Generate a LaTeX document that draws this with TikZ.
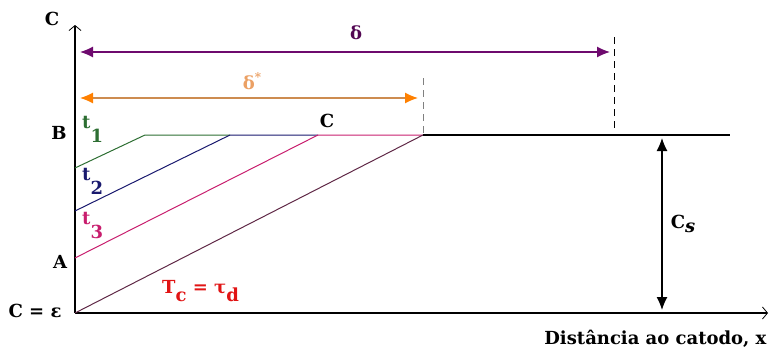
\documentclass[tikz,border=0pt]{standalone}
\usepackage{fontspec}
\setmainfont{DejaVu Serif}
\usetikzlibrary{arrows.meta,positioning}
\definecolor{tgreen}{RGB}{45,110,50}
\definecolor{tnavy}{RGB}{25,25,110}
\definecolor{tpink}{RGB}{200,30,110}
\definecolor{tplum}{RGB}{95,40,70}
\definecolor{tred}{RGB}{225,20,20}
\definecolor{dpurple}{RGB}{110,10,110}
\definecolor{dorange}{RGB}{205,140,80}
\definecolor{dlight}{RGB}{235,160,100}

\begin{document}
\begin{tikzpicture}[x=1pt,y=-1pt,font=\fontsize{18}{20}\selectfont\bfseries,
  axis/.style={line width=1.4pt,-{Straight Barb[length=5pt,width=12pt,line width=0.8pt]}},
  curve/.style={line width=1pt},
  dim/.style={line width=1.2pt,{Latex[length=13pt,width=11pt]}-{Latex[length=13pt,width=11pt]}},
  guide/.style={line width=1pt,dash pattern=on 7pt off 5pt}]
\useasboundingbox (0,0) rectangle (771,356);
\coordinate (O) at (75,313);
\coordinate (ytop) at (75,25);
\coordinate (xend) at (768,313);
\draw[axis] (O) -- (ytop);
\draw[axis] (O) -- (xend);
\coordinate (s1) at (75,168);
\coordinate (s2) at (75,211);
\coordinate (s3) at (75,258);
\coordinate (e1) at (145,135);
\coordinate (e2) at (230,135);
\coordinate (e3) at (318,135);
\coordinate (e4) at (423,135);
\coordinate (eend) at (730,135);
\draw[curve,tgreen] (s1) -- (e1) -- (e2);
\draw[curve,tnavy] (s2) -- (e2) -- (e3);
\draw[curve,tpink] (s3) -- (e3) -- (e4);
\draw[curve,tplum] (O) -- (e4);
\draw[line width=1.2pt] (e4) -- (eend);
\coordinate (g1) at (423,78);
\coordinate (g2) at (614,37);
\coordinate (g2b) at (614,128);
\draw[guide,gray] (g1) -- (e4);
\draw[guide] (g2) -- (g2b);
\coordinate (da) at (80,52);
\coordinate (db) at (610,52);
\coordinate (sa) at (80,98);
\coordinate (sb) at (418,98);
\draw[dim,dpurple] (da) -- (db);
\draw[dim,dorange,{Latex[length=13pt,width=11pt,orange]}-{Latex[length=13pt,width=11pt,orange]}] (sa) -- (sb);
\coordinate (ca) at (662,138);
\coordinate (cb) at (662,310);
\draw[dim] (ca) -- (cb);
\node (lC) at (52,19) {C};
\node (lB) at (59,133) {B};
\node (lA) at (60,262) {A};
\node[anchor=east] (lE) at (65,311) {C = ε};
\node[tgreen,anchor=north west,inner sep=0pt] (t1) at (82,116) {t\raisebox{-0.8em}{1}};
\node[tnavy,anchor=north west,inner sep=0pt] (t2) at (82,168) {t\raisebox{-0.8em}{2}};
\node[tpink,anchor=north west,inner sep=0pt] (t3) at (82,212) {t\raisebox{-0.8em}{3}};
\node[tred,anchor=north west,inner sep=0pt] (tc) at (162,280) {T\raisebox{-0.45em}{c} = τ\raisebox{-0.45em}{d}};
\node (lCm) at (327,121) {C};
\node[dpurple!75!black] (ld) at (356,33) {δ};
\node[dlight] (lds) at (252,81) {δ\raisebox{0.45em}{\fontsize{12}{12}\selectfont *}};
\node (lcs) at (683,224) {C\raisebox{-0.25em}{\itshape s}};
\node[anchor=east] (lx) at (770,339) {Distância ao catodo, x};
\end{tikzpicture}
\end{document}
